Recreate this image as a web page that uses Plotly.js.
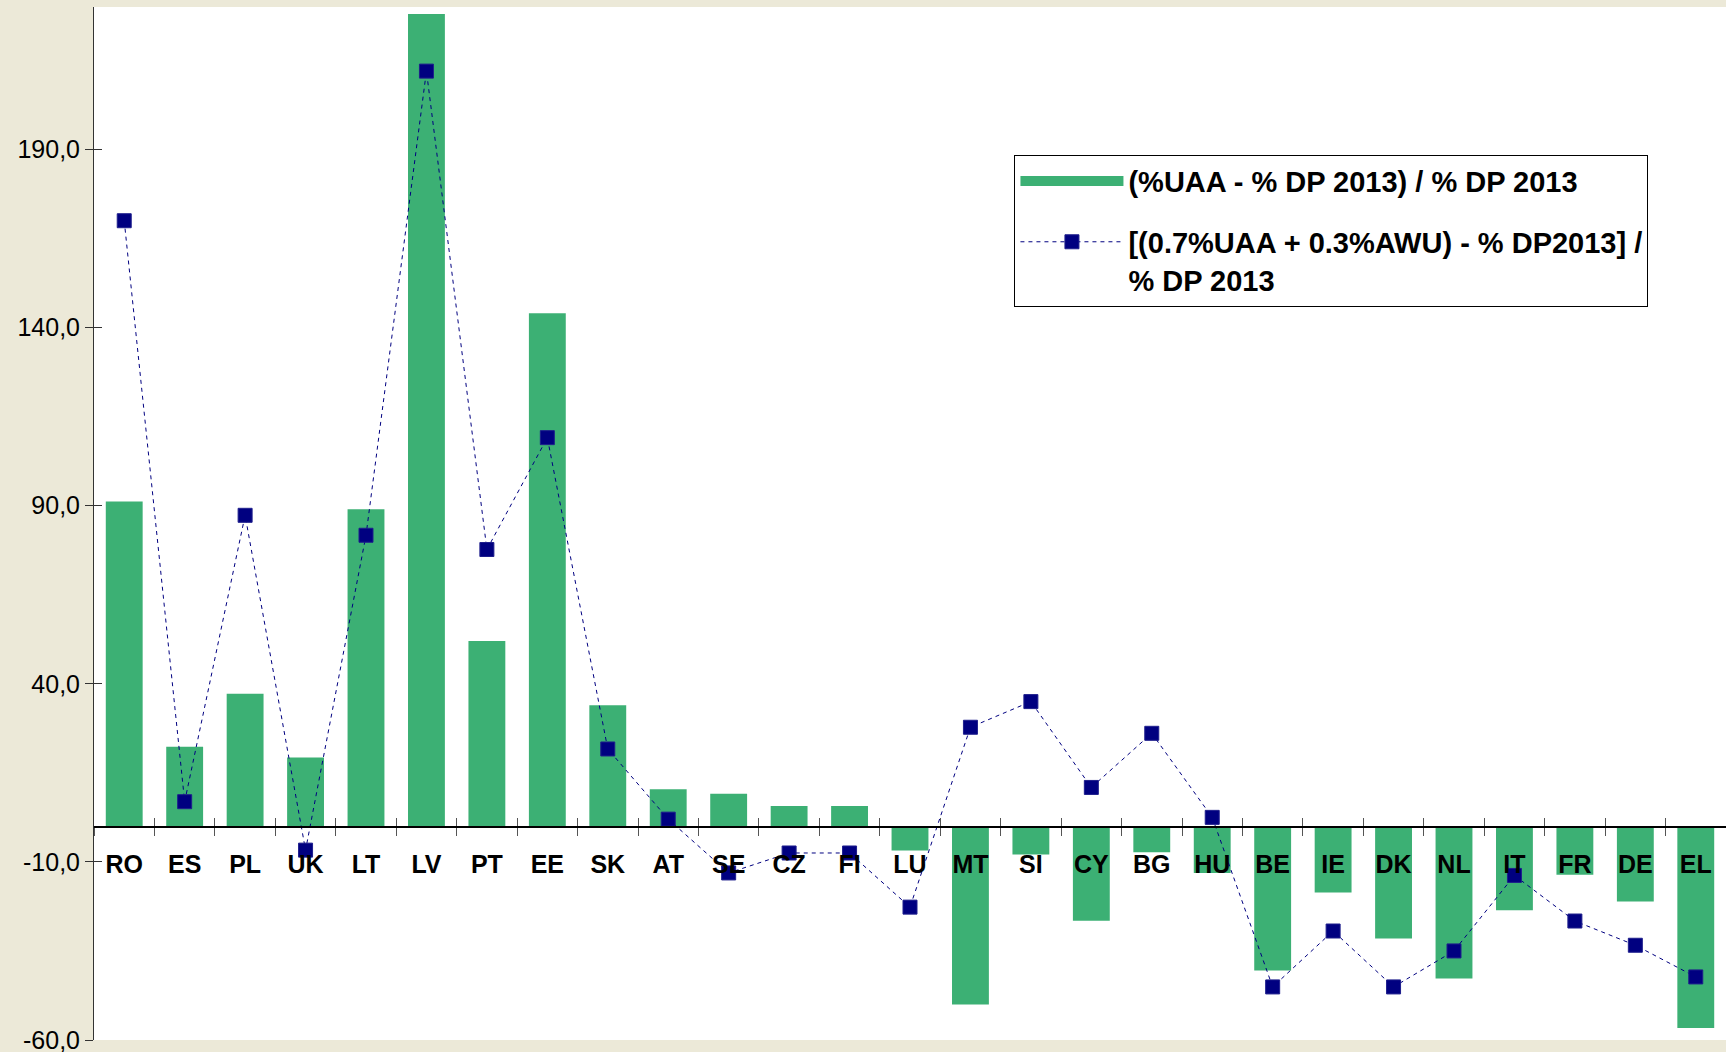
<!DOCTYPE html>
<html>
<head>
<meta charset="utf-8">
<script src="https://cdn.plot.ly/plotly-3.0.1.min.js"></script>
<style>
  html, body { margin: 0; padding: 0; background: #ECE9D8; }
  #chart { width: 1726px; height: 1052px; }
</style>
</head>
<body>
<div id="chart"></div>
<script>
// ---- Data ----
const countries = ["RO","ES","PL","UK","LT","LV","PT","EE","SK","AT","SE","CZ","FI","LU","MT","SI","CY","BG","HU","BE","IE","DK","NL","IT","FR","DE","EL"];
const uaaChange = [91.2, 22.3, 37.2, 19.3, 89.0, 228.0, 52.0, 144.0, 34.0, 10.4, 9.1, 5.7, 5.7, -6.8, -50.0, -7.9, -26.5, -7.3, -13.1, -40.5, -18.6, -31.5, -42.7, -23.6, -13.6, -21.1, -56.6];
const mixChange = [170.0, 6.9, 87.3, -6.7, 81.7, 212.0, 77.7, 109.1, 21.7, 2.0, -13.1, -7.5, -7.5, -22.7, 27.8, 35.0, 10.9, 26.1, 2.5, -45.1, -29.4, -45.1, -35.0, -13.8, -26.6, -33.4, -42.3];
const seriesNames = [
  "(%UAA - % DP 2013) / % DP 2013",
  "[(0.7%UAA + 0.3%AWU) - % DP2013] /<br>% DP 2013"
];
const yTickVals = [-60, -10, 40, 90, 140, 190];
const yTickText = ["-60,0", "-10,0", "40,0", "90,0", "140,0", "190,0"];
const yRange = [-60, 230];

// ---- Styling ----
const FONT = "Liberation Sans, Arial, sans-serif";
const GREEN = "#3CB074";
const NAVY = "#000080";
const zeroPos = (0 - yRange[0]) / (yRange[1] - yRange[0]);
const boundaryVals = countries.map((_, i) => i - 0.5).concat([countries.length - 0.5]);

const traces = [
  {
    type: "bar",
    name: seriesNames[0],
    x: countries,
    y: uaaChange,
    marker: { color: GREEN },
    showlegend: false,
    hoverinfo: "x+y"
  },
  {
    // legend entry for the bar series (wide swatch)
    type: "scatter",
    mode: "lines",
    name: seriesNames[0],
    x: [null],
    y: [null],
    line: { color: GREEN, width: 17 },
    legendgroup: "a",
    hoverinfo: "skip"
  },
  {
    type: "scatter",
    mode: "lines+markers",
    name: seriesNames[1],
    x: countries,
    y: mixChange,
    line: { color: NAVY, width: 1, dash: "4px,4px" },
    marker: { symbol: "square", size: 14, color: NAVY, line: { color: "#1E1E8C", width: 1 } },
    legendgroup: "b",
    hoverinfo: "x+y"
  },
  {
    type: "scatter",
    x: [], y: [],
    xaxis: "x2", yaxis: "y2",
    showlegend: false,
    hoverinfo: "skip"
  }
];

const layout = {
  width: 1726,
  height: 1052,
  paper_bgcolor: "#ECE9D8",
  plot_bgcolor: "#FFFFFF",
  margin: { l: 94, r: 0, t: 7, b: 12, pad: 0 },
  bargap: 0.39,
  font: { family: FONT, color: "#000000" },
  showlegend: true,
  legend: {
    x: 0.564, y: 0.857,
    xanchor: "left", yanchor: "top",
    bgcolor: "#FFFFFF",
    bordercolor: "#000000",
    borderwidth: 1,
    font: { family: FONT, size: 29, color: "#000000", weight: "bold" },
    traceorder: "grouped",
    tracegroupgap: 20,
    valign: "top",
    itemwidth: 103
  },
  xaxis: {
    type: "category",
    range: [-0.5, countries.length - 0.5],
    anchor: "free",
    position: zeroPos,
    showline: true,
    linecolor: "#000000",
    linewidth: 1.5,
    showgrid: false,
    zeroline: false,
    ticks: "outside",
    tickson: "boundaries",
    ticklen: 8,
    tickcolor: "#555555",
    tickwidth: 1,
    ticklabelstandoff: 15,
    tickfont: { family: FONT, size: 25, color: "#000000", weight: "bold" },
    automargin: false,
    fixedrange: true
  },
  xaxis2: {
    type: "linear",
    overlaying: "x",
    anchor: "free",
    position: zeroPos,
    range: [-0.5, countries.length - 0.5],
    tickmode: "array",
    tickvals: boundaryVals,
    ticks: "inside",
    ticklen: 8,
    tickcolor: "#555555",
    tickwidth: 1,
    showticklabels: false,
    showline: false,
    showgrid: false,
    zeroline: false,
    automargin: false,
    fixedrange: true
  },
  yaxis: {
    range: yRange,
    tickmode: "array",
    tickvals: yTickVals,
    ticktext: yTickText,
    showline: true,
    linecolor: "#333333",
    linewidth: 1,
    showgrid: false,
    zeroline: false,
    ticks: "outside",
    ticklen: 8,
    tickcolor: "#333333",
    tickwidth: 1,
    ticklabeloverflow: "allow",
    tickfont: { family: FONT, size: 25, color: "#000000" },
    automargin: false,
    fixedrange: true
  },
  yaxis2: {
    overlaying: "y",
    anchor: "x",
    side: "left",
    range: yRange,
    tickmode: "array",
    tickvals: yTickVals,
    ticks: "inside",
    ticklen: 8,
    tickcolor: "#333333",
    tickwidth: 1,
    showticklabels: false,
    showline: false,
    showgrid: false,
    zeroline: false,
    automargin: false,
    fixedrange: true
  }
};

Plotly.newPlot("chart", traces, layout, { displayModeBar: false, staticPlot: true });
</script>
</body>
</html>
